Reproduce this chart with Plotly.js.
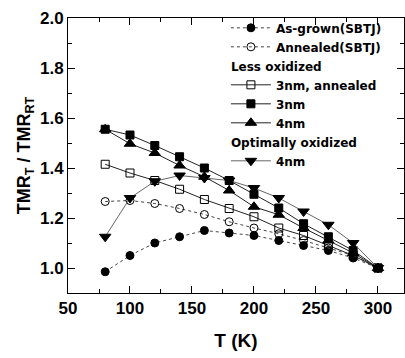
<!DOCTYPE html>
<html><head><meta charset="utf-8">
<script src="https://cdn.plot.ly/plotly-3.0.1.min.js"></script>
<style>html,body{margin:0;padding:0;background:#fff}</style>
</head><body><div id="c" style="width:405px;height:358px"></div>
<script>
const T = [80,100,120,140,160,180,200,220,240,260,280,300];
const asGrown   = [0.985,1.05,1.10,1.125,1.15,1.14,1.13,1.11,1.09,1.07,1.04,1.0];
const annealed  = [1.266,1.27,1.258,1.238,1.214,1.185,1.16,1.137,1.11,1.08,1.05,1.0];
const less3nmAnn= [1.415,1.38,1.35,1.315,1.274,1.238,1.205,1.16,1.13,1.09,1.05,1.0];
const less3nm   = [1.555,1.532,1.49,1.445,1.40,1.35,1.295,1.24,1.177,1.125,1.07,1.0];
const less4nm   = [1.555,1.497,1.46,1.41,1.365,1.31,1.245,1.213,1.16,1.11,1.06,1.0];
const opt4nm    = [1.125,1.28,1.347,1.37,1.36,1.35,1.32,1.28,1.226,1.173,1.10,1.0];

const F = 'Liberation Sans, Arial, sans-serif';
const LF = 'DejaVu Sans, Liberation Sans, sans-serif';
function tr(y, name, symbol, dash, lineColor, group, gtitle){
  const t = {x:T, y:y, name:name, type:'scatter', mode:'lines+markers',
    line:{color:lineColor, width:1, dash:dash},
    marker:{symbol:symbol, size: symbol.indexOf('triangle')===0?10:8, color:'#000', line:{color:'#000', width:1}},
    legendgroup:group};
  if (gtitle) t.legendgrouptitle = {text:gtitle, font:{family:LF, size:12, weight:'bold', color:'#000'}};
  return t;
}
const data = [
  tr(asGrown, 'As-grown(SBTJ)', 'circle', 'dot', '#444', 'g1'),
  tr(annealed, 'Annealed(SBTJ)', 'circle-open', 'dot', '#444', 'g1'),
  tr(less3nmAnn, '3nm, annealed', 'square-open', 'solid', '#222', 'g2', 'Less oxidized'),
  tr(less3nm, '3nm', 'square', 'solid', '#222', 'g2', 'Less oxidized'),
  tr(less4nm, '4nm', 'triangle-up', 'solid', '#222', 'g2', 'Less oxidized'),
  tr(opt4nm, '4nm', 'triangle-down', 'solid', '#666', 'g3', 'Optimally oxidized')
];
const layout = {
  width:405, height:358,
  margin:{l:68, r:1, t:18, b:65},
  paper_bgcolor:'#fff', plot_bgcolor:'#fff',
  showlegend:true,
  legend:{x:0.47, y:1.017, xanchor:'left', yanchor:'top', bgcolor:'rgba(0,0,0,0)',
    traceorder:'grouped', tracegroupgap:0, itemwidth:40,
    font:{family:LF, size:12, weight:'bold', color:'#000'}},
  xaxis:{range:[50,321], tick0:50, dtick:50, ticks:'inside', ticklen:7, tickwidth:1, tickcolor:'#000',
    minor:{dtick:25, ticks:'inside', ticklen:4, tickcolor:'#000'},
    showline:true, linecolor:'#000', linewidth:1, mirror:'allticks', showgrid:false, zeroline:false,
    tickfont:{family:F, size:17, weight:'bold', color:'#000'},
    title:{text:'T (K)', font:{family:F, size:19, weight:'bold', color:'#000'}, standoff:16}},
  yaxis:{range:[0.9,2.0], tick0:1.0, dtick:0.2, tickformat:'.1f', ticks:'inside', ticklen:7, tickwidth:1, tickcolor:'#000',
    minor:{dtick:0.1, ticks:'inside', ticklen:4, tickcolor:'#000'},
    showline:true, linecolor:'#000', linewidth:1, mirror:'allticks', showgrid:false, zeroline:false,
    tickfont:{family:F, size:17, weight:'bold', color:'#000'},
    title:{text:'TMR<sub>T</sub> / TMR<sub>RT</sub>', font:{family:F, size:18, weight:'bold', color:'#000'}, standoff:4}}
};
Plotly.newPlot('c', data, layout, {displayModeBar:false, staticPlot:true});
</script></body></html>
